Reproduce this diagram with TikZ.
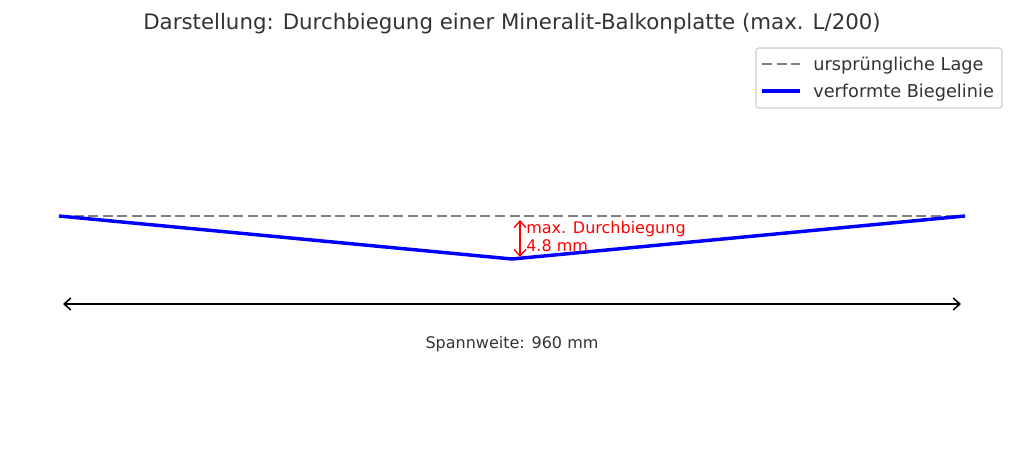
\documentclass[tikz,border=0pt]{standalone}
\usepackage{fontspec}
\setmainfont{DejaVu Sans}
\usepackage{tikz}
\usetikzlibrary{arrows.meta,positioning}
\definecolor{txtgray}{HTML}{333333}
\definecolor{lagegray}{HTML}{808080}
\definecolor{boxgray}{HTML}{CCCCCC}
\tikzset{
    lage/.style={
           lagegray,
           line width=1.7pt,
           dash pattern=on 7.5pt off 3.4pt,
           },
    biege/.style={
           blue,
           line width=2.6pt,
           },
    pfeil/.style={
           {Straight Barb[length=5pt,width=9pt]}-{Straight Barb[length=5pt,width=9pt]},
           line width=1.2pt,
           },
    beschr/.style={
           inner sep=0pt,
           text=txtgray,
           },
    legbox/.style={
           rectangle,
           rounded corners=2pt,
           draw=boxgray, line width=0.8pt,
           fill=white,
           minimum width=184.5pt,
           minimum height=45pt,
           },
}

\begin{document}
\begin{tikzpicture}[x=0.75pt,y=-0.75pt]
\useasboundingbox (0,0) rectangle (1024,450);
% titel
\node (titel) at (512,24) [beschr] {\fontsize{16pt}{19pt}\selectfont Darstellung: Durchbiegung einer Mineralit-Balkonplatte (max. L/200)};
% lage und biegelinie
\coordinate (links) at (59,216);
\coordinate (rechts) at (965,216);
\coordinate (mitte) at (512,259);
\draw[lage] (links) -- (rechts);
\draw[biege] (links) -- (mitte) -- (rechts);
% durchbiegung
\coordinate (f1) at (520,220);
\coordinate (f2) at (520,257);
\draw[pfeil, red, line width=1pt] (f1) -- (f2);
\node (fmax) at (526,229) [beschr, anchor=west, text=red] {\fontsize{12pt}{14pt}\selectfont max. Durchbiegung};
\node (fwert) at (526,246) [beschr, anchor=west, text=red] {\fontsize{12pt}{14pt}\selectfont 4.8 mm};
% spannweite
\coordinate (s1) at (63,304);
\coordinate (s2) at (961,304);
\draw[pfeil] (s1) -- (s2);
\node (spann) at (512,344) [beschr] {\fontsize{12pt}{14pt}\selectfont Spannweite: 960 mm};
% legende
\node (legende) at (879,78) [legbox] {};
\coordinate (l1) at (762,64);
\coordinate (l2) at (800,64);
\coordinate (l3) at (762,91);
\coordinate (l4) at (800,91);
\draw[lage] (l1) -- (l2);
\draw[biege] (l3) -- (l4);
\node (leg1) at (813,66) [beschr, anchor=west] {\fontsize{13.3pt}{16pt}\selectfont ursprüngliche Lage};
\node (leg2) at (813,93) [beschr, anchor=west] {\fontsize{13.3pt}{16pt}\selectfont verformte Biegelinie};
\end{tikzpicture}
\end{document}
